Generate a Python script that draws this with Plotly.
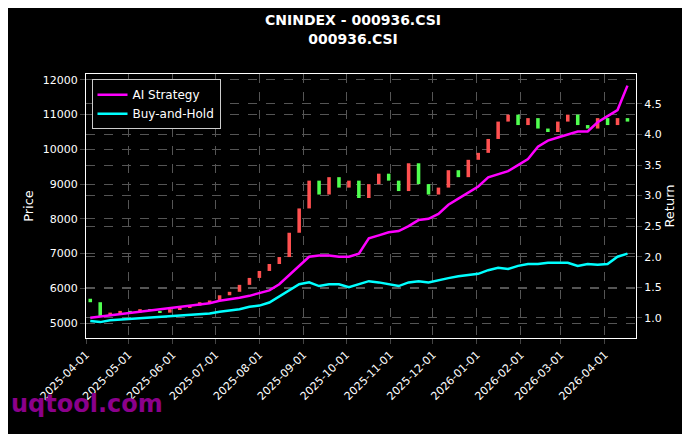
import plotly.graph_objects as go
import pandas as pd

# weekly data
dates = pd.date_range("2025-04-04", periods=55, freq="7D")
close = [5600, 5200, 5300, 5350,
         5300, 5400, 5350, 5300,
         5400, 5450, 5500, 5600, 5650,
         5800, 5900, 6100, 6300,
         6500, 6700, 6900, 7600, 8300,
         9100, 8700, 9200, 8900,
         9100, 8600, 9000, 9300,
         9100, 8800, 9600, 9000, 8700,
         8900, 9400, 9200, 9700,
         9900, 10300, 10800, 11000, 10700,
         10900, 10600, 10500, 10800,
         11000, 10700, 10600, 10900,
         10700, 10900, 10800]
open_ = [5700] + close[:-1]
ai_ret = [1.0, 1.02, 1.05, 1.06, 1.08, 1.10, 1.12, 1.14, 1.16, 1.18, 1.2, 1.22, 1.24,
          1.28, 1.3, 1.33, 1.36, 1.4, 1.45, 1.55, 1.7, 1.85, 2.0, 2.02, 2.02, 2.0,
          2.0, 2.05, 2.3, 2.35, 2.4, 2.42, 2.5, 2.6, 2.62, 2.7, 2.85, 2.95, 3.05,
          3.15, 3.3, 3.35, 3.4, 3.5, 3.6, 3.8, 3.9, 3.95, 4.0, 4.05, 4.05, 4.2,
          4.3, 4.4, 4.8]
bh_ret = [0.95, 0.93, 0.96, 0.97, 0.98, 1.0, 1.0, 1.01, 1.02, 1.03, 1.04, 1.06, 1.07,
          1.1, 1.12, 1.14, 1.18, 1.2, 1.25, 1.35, 1.45, 1.55, 1.58, 1.52, 1.55, 1.55,
          1.5, 1.55, 1.6, 1.58, 1.55, 1.52, 1.58, 1.6, 1.58, 1.62, 1.65, 1.68, 1.7,
          1.72, 1.78, 1.82, 1.8, 1.85, 1.88, 1.88, 1.9, 1.9, 1.9, 1.85, 1.88, 1.87,
          1.88, 2.0, 2.05]

# candle bodies as thin bars
base = [min(o, c) for o, c in zip(open_, close)]
height = [max(abs(c - o), 40) for o, c in zip(open_, close)]
colors = ["#ff5050" if c >= o else "#50ff50" for o, c in zip(open_, close)]

fig = go.Figure()
fig.add_trace(go.Bar(x=dates, y=height, base=base, marker=dict(color=colors, line_width=0),
                     width=2.5 * 86400000, showlegend=False, name="Price"))
fig.add_trace(go.Scatter(x=dates, y=ai_ret, yaxis="y2", name="AI Strategy",
                         mode="lines", line=dict(color="#ff00ff", width=2.5)))
fig.add_trace(go.Scatter(x=dates, y=bh_ret, yaxis="y2", name="Buy-and-Hold",
                         mode="lines", line=dict(color="#00ffff", width=2.5)))

grid = dict(showgrid=True, gridcolor="#555", griddash="dash", gridwidth=0.5)
fig.update_layout(
    width=690, height=434,
    paper_bgcolor="black", plot_bgcolor="black",
    font=dict(family="DejaVu Sans", color="white", size=11),
    title=dict(text="<b>CNINDEX - 000936.CSI<br>000936.CSI</b>", x=0.5, y=0.96,
               xanchor="center", font=dict(size=14)),
    margin=dict(l=78, r=62, t=66, b=104),
    xaxis=dict(range=["2025-04-01", "2026-04-23"], automargin=False,
               dtick="M1", tickformat="%Y-%m-%d", tickangle=-45, ticks="outside",
               showline=True, linecolor="white", mirror=True, **grid),
    yaxis=dict(title=dict(text="Price", standoff=6), range=[4570, 12170], dtick=1000,
               automargin=False, tickformat="d", ticks="outside", showline=True,
               linecolor="white", **grid),
    yaxis2=dict(title=dict(text="Return", standoff=4), range=[0.67, 4.99], dtick=0.5,
                automargin=False, overlaying="y", side="right", ticks="outside",
                showline=True, linecolor="white", tickformat=".1f", **grid),
    legend=dict(x=0.01, y=0.98, bgcolor="black", bordercolor="#ccc", borderwidth=1,
                font=dict(size=12)),
    annotations=[dict(text="<b>uqtool.com</b>", xref="paper", yref="paper",
                      x=-0.14, y=-0.31, xanchor="left", yanchor="bottom",
                      showarrow=False, font=dict(size=24, color="#8b008b"))],
)
fig.write_html("out.html")
